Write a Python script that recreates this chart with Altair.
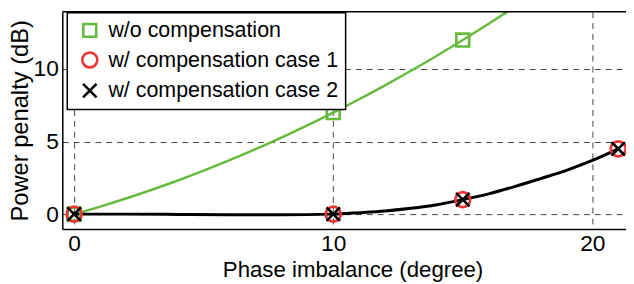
import altair as alt
import pandas as pd

# ---- data ----
labels = ["w/o compensation", "w/ compensation case 1", "w/ compensation case 2"]

# measured markers
deg_wo = [0, 10, 15]
pp_wo = [0, 7, 12]
deg_comp = [0, 10, 15, 21]
pp_case1 = [0, 0, 1, 4.5]
pp_case2 = [0, 0, 1, 4.5]

# fitted curves
curve_wo_x = [0, 1, 2, 3, 4, 5, 6, 7, 8, 9, 10, 11, 12, 13, 14, 15, 16, 17]
curve_wo_y = [0, 0.52, 1.08, 1.68, 2.32, 3.0, 3.72, 4.48, 5.28, 6.12, 7.0,
              7.92, 8.88, 9.88, 10.92, 12.0, 13.12, 14.28]
curve_c_x = [0, 2, 4, 6, 8, 10, 11, 12, 13, 14, 15, 16, 17, 18, 19, 20, 21]
curve_c_y = [0, 0, -0.02, -0.05, -0.05, 0, 0.1, 0.22, 0.4, 0.65, 1.0, 1.4,
             1.9, 2.45, 3.02, 3.7, 4.5]

x_ticks = [0, 10, 20]
y_ticks = [0, 5, 10]

GREEN = "#66bb3f"
RED = "#ee3333"
BLACK = "#000000"
FONT = "Liberation Sans"
W, H = 571, 220

cross = "M-0.8,-0.8L0.8,0.8M-0.8,0.8L0.8,-0.8"

xs = alt.Scale(domain=[-0.457, 21.3], nice=False, zero=False)
ys = alt.Scale(domain=[-1.02, 13.95], nice=False, zero=False)
xaxis = alt.Axis(values=x_ticks, title="Phase imbalance (degree)", ticks=False,
                 titleX=294, titleFontSize=22.5)
yaxis = alt.Axis(values=y_ticks, title="Power penalty (dB)", ticks=False,
                 titleFontSize=24)

curves = pd.concat([
    pd.DataFrame({"x": curve_wo_x, "y": curve_wo_y, "s": labels[0]}),
    pd.DataFrame({"x": curve_c_x, "y": curve_c_y, "s": labels[2]}),
])

pts = pd.concat([
    pd.DataFrame({"x": deg_wo, "y": pp_wo, "s": labels[0], "o": 0}),
    pd.DataFrame({"x": deg_comp, "y": pp_case1, "s": labels[1], "o": 1}),
    pd.DataFrame({"x": deg_comp, "y": pp_case2, "s": labels[2], "o": 2}),
])

green_line = alt.Chart(curves[curves.s == labels[0]]).mark_line(
    color=GREEN, strokeWidth=2.5, clip=True, interpolate="monotone"
).encode(
    x=alt.X("x:Q", scale=xs, axis=xaxis),
    y=alt.Y("y:Q", scale=ys, axis=yaxis),
)
black_line = alt.Chart(curves[curves.s == labels[2]]).mark_line(
    color=BLACK, strokeWidth=3, clip=True, interpolate="monotone"
).encode(
    x=alt.X("x:Q", scale=xs, axis=xaxis),
    y=alt.Y("y:Q", scale=ys, axis=yaxis),
)

points = alt.Chart(pts).mark_point(filled=False, strokeWidth=2.7, opacity=1).encode(
    x=alt.X("x:Q", scale=xs, axis=xaxis),
    y=alt.Y("y:Q", scale=ys, axis=yaxis),
    color=alt.Color("s:N", sort=labels,
                    scale=alt.Scale(domain=labels, range=[GREEN, RED, BLACK]),
                    legend=alt.Legend(title=None, orient="none", legendX=5, legendY=1,
                                      labelFont=FONT, labelFontSize=21.7, labelColor="black",
                                      labelLimit=400,
                                      symbolSize=220, symbolStrokeWidth=2.6,
                                      strokeColor="black", fillColor="white",
                                      padding=7, rowPadding=5, labelOffset=8,
                                      symbolOffset=5)),
    shape=alt.Shape("s:N", sort=labels,
                    scale=alt.Scale(domain=labels, range=["square", "circle", cross])),
    size=alt.Size("s:N", sort=labels,
                  scale=alt.Scale(domain=labels, range=[170, 290, 250]), legend=None),
    order=alt.Order("o:Q"),
)

top_border = alt.Chart(pd.DataFrame({"a": [0]})).mark_rule(color="black", strokeWidth=1.5).encode(
    x=alt.value(0), x2=alt.value(W), y=alt.value(0)
)

chart = alt.layer(green_line, black_line, points, top_border).properties(
    width=W, height=H,
    autosize=alt.AutoSizeParams(type="none"),
    padding={"left": 55, "top": 2, "right": 0, "bottom": 54},
).configure_view(strokeWidth=0).configure_axis(
    labelFont=FONT, titleFont=FONT, labelFontSize=23,
    titleFontWeight="normal", labelColor="black", titleColor="black",
    domainColor="black", domainWidth=1.5,
    grid=True, gridColor="#444444", gridDash=[6, 5], gridWidth=1, gridOpacity=1,
    labelPadding=4,
).configure_axisX(titlePadding=3).configure_axisY(titlePadding=1).configure_legend(
    strokeWidth=1.5
)

chart.save("out.html", embed_options={"renderer": "svg", "actions": False})
